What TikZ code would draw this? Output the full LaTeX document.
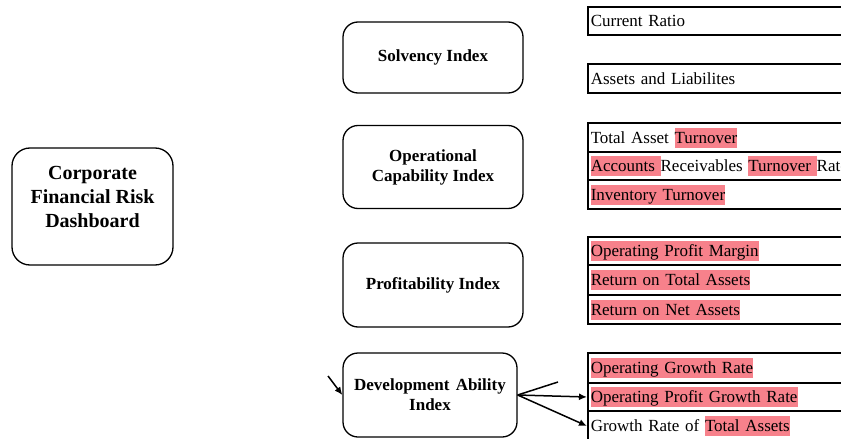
\documentclass[tikz,border=0pt]{standalone}
\usepackage{fontspec}
\setmainfont{Liberation Serif}
\usetikzlibrary{arrows.meta}
\definecolor{hl}{RGB}{247,129,139}
\newcommand\hlt[1]{{\setlength{\fboxsep}{0pt}\colorbox{hl}{\rule[-4.5pt]{0pt}{20pt}#1}}}
\begin{document}
\begin{tikzpicture}[x=1pt,y=-1pt,
  box/.style={draw, line width=1.3pt, rounded corners=15pt, align=center, font=\fontsize{17}{20}\selectfont\bfseries, inner sep=0pt},
  cell/.style={draw, line width=1.5pt, anchor=west, minimum width=320pt, text width=314pt, align=left, inner xsep=3pt, inner ysep=0pt, text height=15.5pt, text depth=4.5pt, font=\fontsize{17}{20}\selectfont},
  arr/.style={line width=1.5pt, -{Latex[length=8pt,width=7pt]}}]
\useasboundingbox (0,0) rectangle (841,439);
\clip (0,0) rectangle (841,439);
% main
\node[box, rounded corners=18pt, minimum width=161pt, minimum height=117pt] (main) at (92.5,206.5) {};
\node[align=center, font=\fontsize{20}{24}\selectfont\bfseries] (maint) at (92.5,197) {Corporate\\Financial Risk\\Dashboard};
% index boxes
\node[box, minimum width=180pt, minimum height=71pt] (solv) at (433,57.5) {Solvency Index};
\node[box, minimum width=180pt, minimum height=83pt] (oper) at (433,167) {Operational\\Capability Index};
\node[box, minimum width=180pt, minimum height=84pt] (prof) at (433,285) {Profitability Index};
\node[box, minimum width=174pt, minimum height=84pt] (dev) at (430,395) {Development\hspace{2pt} Ability\\Index};
% tables
\node[cell, minimum height=28pt] (s1) at (587,21) {Current Ratio};
\node[cell, minimum height=29pt] (s2) at (587,78.5) {Assets and Liabilites};
\node[cell, minimum height=29pt] (o1) at (587,137.5) {Total Asset \hlt{Turnover}};
\node[cell, minimum height=28pt] (o2) at (587,166) {\hlt{Accounts }Receivables \hlt{Turnover }Rate};
\node[cell, minimum height=29pt] (o3) at (587,194.5) {\hlt{Inventory Turnover}};
\node[cell, minimum height=28pt] (p1) at (587,251) {\hlt{Operating Profit Margin}};
\node[cell, minimum height=30pt] (p2) at (587,280) {\hlt{Return on Total Assets}};
\node[cell, minimum height=29pt] (p3) at (587,309.5) {\hlt{Return on Net Assets}};
\node[cell, minimum height=30pt] (d1) at (587,368) {\hlt{Operating Growth Rate}};
\node[cell, minimum height=28pt] (d2) at (587,397) {\hlt{Operating Profit Growth Rate}};
\node[cell, minimum height=30pt] (d3) at (587,426) {Growth Rate of \hlt{Total Assets}};
% connectors
\coordinate (inarr) at (328,376);
\coordinate (upend) at (558,382);
\draw[arr] (inarr) -- (dev.west);
\draw[line width=1.5pt] (dev.east) -- (upend);
\draw[arr] (dev.east) -- (d2.west);
\draw[arr] (dev.east) -- (d3.west);
\end{tikzpicture}
\end{document}
